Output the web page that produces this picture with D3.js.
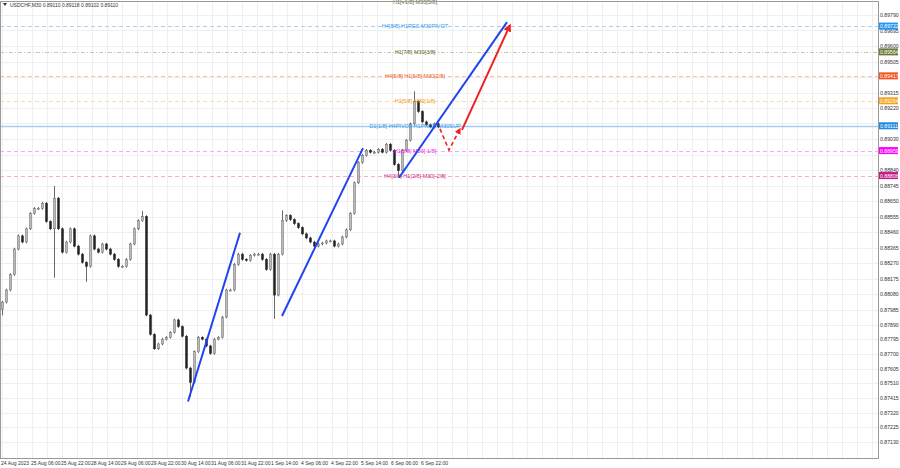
<!DOCTYPE html>
<html><head><meta charset="utf-8">
<script src="https://cdn.jsdelivr.net/npm/d3@7"></script>
<style>body{margin:0;background:#fff}svg{display:block}text{font-family:"Liberation Sans",Arial,sans-serif}</style>
</head><body><svg id="c" width="900" height="468"></svg>
<script>
const closes=[0.88033,0.88107,0.88201,0.88357,0.88438,0.88400,0.88481,0.88575,0.88606,0.88606,
0.88637,0.88525,0.88481,0.88668,0.88481,0.88338,0.88400,0.88481,0.88375,0.88326,
0.88276,0.88251,0.88438,0.88357,0.88338,0.88388,0.88357,0.88326,0.88294,0.88251,
0.88251,0.88294,0.88388,0.88481,0.88531,0.88556,0.87952,0.87827,0.87734,0.87765,
0.87796,0.87808,0.87840,0.87921,0.87877,0.87815,0.87609,0.87516,0.87715,0.87808,
0.87796,0.87752,0.87703,0.87796,0.87808,0.87939,0.88107,0.88107,0.88263,0.88326,
0.88294,0.88288,0.88319,0.88326,0.88326,0.88294,0.88232,0.88326,0.88076,0.88326,
0.88531,0.88562,0.88537,0.88512,0.88488,0.88450,0.88425,0.88400,0.88375,0.88388,
0.88394,0.88407,0.88407,0.88375,0.88388,0.88431,0.88475,0.88575,0.88762,0.88886,
0.88930,0.88961,0.88949,0.88949,0.88967,0.88949,0.88998,0.88961,0.88874,0.88836,
0.88961,0.89023,0.89123,0.89260,0.89198,0.89135,0.89117,0.89104,0.89123,0.89104];
const firstOpen=0.87990;
const wickSpikes=[{i:0,low:0.87950},{i:13,high:0.88743,low:0.88182},{i:21,low:0.88157},{i:47,low:0.87422},
{i:68,low:0.87927},{i:70,high:0.88594},{i:99,low:0.88793},{i:103,high:0.89322},{i:35,high:0.88590}];
const yTicks=[0.89790,0.89695,0.89600,0.89505,0.89410,0.89315,0.89220,0.89125,0.89030,0.88935,0.88840,0.88745,0.88650,0.88555,0.88460,0.88365,0.88270,0.88175,0.88080,0.87985,0.87890,0.87795,0.87700,0.87605,0.87510,0.87415,0.87320,0.87225,0.87130];
const xTickIdx=[0,7.5,15,22.5,30,37.5,45,52.5,60,67.5,75,82.5,90,97.5,105];
const xTickLabels=["24 Aug 2023","25 Aug 06:00","25 Aug 22:00","28 Aug 14:00","29 Aug 06:00","29 Aug 22:00","30 Aug 14:00","31 Aug 06:00","31 Aug 22:00","1 Sep 14:00","4 Sep 06:00","4 Sep 22:00","5 Sep 14:00","6 Sep 06:00","6 Sep 22:00"];
const levels=[
 {p:0.89722,label:"H4[8/8] H1RES M30PIVOT",line:"#a9d3f5",text:"#3399ee",bg:"#2196f3",dash:"4,3"},
 {p:0.89564,label:"H1[7/8] M30[3/8]",line:"#c4c9a8",text:"#5c6b2e",bg:"#6b7a3a",dash:"4,2,1,2"},
 {p:0.89417,label:"H4[5/8] H1[6/8] M30[2/8]",line:"#f8c0a8",text:"#f05a1e",bg:"#f4511e",dash:"4,3"},
 {p:0.89264,label:"H1[5/8] M30[1/8]",line:"#fbdcaa",text:"#f39c12",bg:"#f7a21b",dash:"4,3"},
 {p:0.89111,label:"D1[1/8] H4PIVOT H1PIVOT M30SUP",line:"#a8cdee",text:"#3399ee",bg:"#1e88e5",dash:null},
 {p:0.88959,label:"H1[3/8] M30[-1/8]",line:"#f7a8f7",text:"#ee22ee",bg:"#ff00ff",dash:"4,3"},
 {p:0.88806,label:"H4[3/8] H1[2/8] M30[-2/8]",line:"#f2b0d0",text:"#d02a80",bg:"#c71585",dash:"4,3"}];
const topLabel={p:0.89868,label:"H1[+1/8] M30[5/8]",text:"#5c6b2e"};
const blueLines=[[[46.5,0.87392],[59.5,0.88457]],[[70,0.87946],[90.25,0.88974]],[[99.25,0.88793],[126.25,0.89746]]];
const redDashed=[[109.5,0.89092],[111.75,0.88962],[114.5,0.89092]];
const redSolid=[[115,0.89086],[127,0.89728]];

const svg=d3.select("#c");
const L=0,R=878,T=1,B=458;
const y=d3.scaleLinear().domain([0.8713,0.87985,0.8884,0.8979]).range([442,310,170,15]);
const x=d3.scaleLinear().domain([0,1]).range([2,6]);
const g=svg.append("g");
yTicks.forEach(t=>g.append("line").attr("x1",L).attr("x2",R).attr("y1",Math.round(y(t))+.5).attr("y2",Math.round(y(t))+.5).attr("stroke","#efefef"));
for(let k=0;k<60;k++){const xx=x(k*3.75);if(xx>R)break;g.append("line").attr("x1",Math.round(xx)+.5).attr("x2",Math.round(xx)+.5).attr("y1",T).attr("y2",B).attr("stroke","#efefef");}
levels.forEach(l=>{const yy=Math.round(y(l.p))+.5;
 g.append("line").attr("x1",L).attr("x2",R).attr("y1",yy).attr("y2",yy).attr("stroke",l.line).attr("stroke-width",l.dash?1:1.5).attr("stroke-dasharray",l.dash);
});
const cg=svg.append("g");
closes.forEach((c,i)=>{const o=i===0?firstOpen:closes[i-1];
 const sp=wickSpikes.find(s=>s.i===i)||{};
 const hi=sp.high||Math.max(o,c)+0.00008, lo=sp.low||Math.min(o,c)-0.00008;
 const xc=Math.round(x(i))+.5;
 cg.append("line").attr("x1",xc).attr("x2",xc).attr("y1",y(hi)).attr("y2",y(lo)).attr("stroke","#444").attr("stroke-width",0.8);
 const bull=c>=o;
 cg.append("rect").attr("x",xc-1).attr("width",2).attr("y",y(Math.max(o,c))).attr("height",Math.max(1,Math.abs(y(o)-y(c))))
  .attr("fill",bull?"#bbb":"#222").attr("stroke",bull?"#666":"#222").attr("stroke-width",0.5);
});
levels.forEach(l=>{svg.append("text").attr("x",415).attr("y",y(l.p)+2).attr("text-anchor","middle").attr("font-size",5.5).attr("fill",l.text).text(l.label);});
svg.append("text").attr("x",415).attr("y",y(topLabel.p)+2).attr("text-anchor","middle").attr("font-size",5.5).attr("fill",topLabel.text).text(topLabel.label);
const ln=d3.line().x(d=>x(d[0])).y(d=>y(d[1]));
blueLines.forEach(b=>svg.append("path").attr("d",ln(b)).attr("stroke","#2244ee").attr("stroke-width",2).attr("fill","none"));
svg.append("defs").html('<marker id="ah" viewBox="0 0 10 10" refX="8" refY="5" markerWidth="4" markerHeight="4" orient="auto"><path d="M0,0L10,5L0,10z" fill="#ee2222"/></marker>');
svg.append("path").attr("d",ln(redDashed)).attr("stroke","#ee2222").attr("stroke-width",1.6).attr("stroke-dasharray","4,3").attr("fill","none").attr("marker-end","url(#ah)");
svg.append("path").attr("d",ln(redSolid)).attr("stroke","#ee2222").attr("stroke-width",2).attr("fill","none").attr("marker-end","url(#ah)");
svg.append("rect").attr("x",L+.5).attr("y",T+.5).attr("width",R-L).attr("height",B-T).attr("fill","none").attr("stroke","#999");
const occupied=levels.map(l=>y(l.p));
yTicks.forEach(t=>{const yy=y(t);if(occupied.some(o=>Math.abs(o-yy)<4))return;
 svg.append("text").attr("x",880).attr("y",yy+2).attr("font-size",5.2).attr("fill","#333").text(t.toFixed(5));});
levels.forEach(l=>{const yy=y(l.p);
 svg.append("rect").attr("x",879).attr("y",yy-3.5).attr("width",19).attr("height",7).attr("fill",l.bg);
 svg.append("text").attr("x",880).attr("y",yy+2).attr("font-size",5.2).attr("fill","#fff").text(l.p.toFixed(5));});
xTickIdx.forEach((t,k)=>svg.append("text").attr("x",x(t)-1).attr("y",465).attr("font-size",5).attr("fill","#333").text(xTickLabels[k]));
svg.append("path").attr("d","M3,3L7,3L5,6z").attr("fill","#333");
svg.append("text").attr("x",10).attr("y",6.5).attr("font-size",5).attr("fill","#333").text("USDCHF,M30  0.89110 0.89118 0.89102 0.89110");
</script></body></html>
